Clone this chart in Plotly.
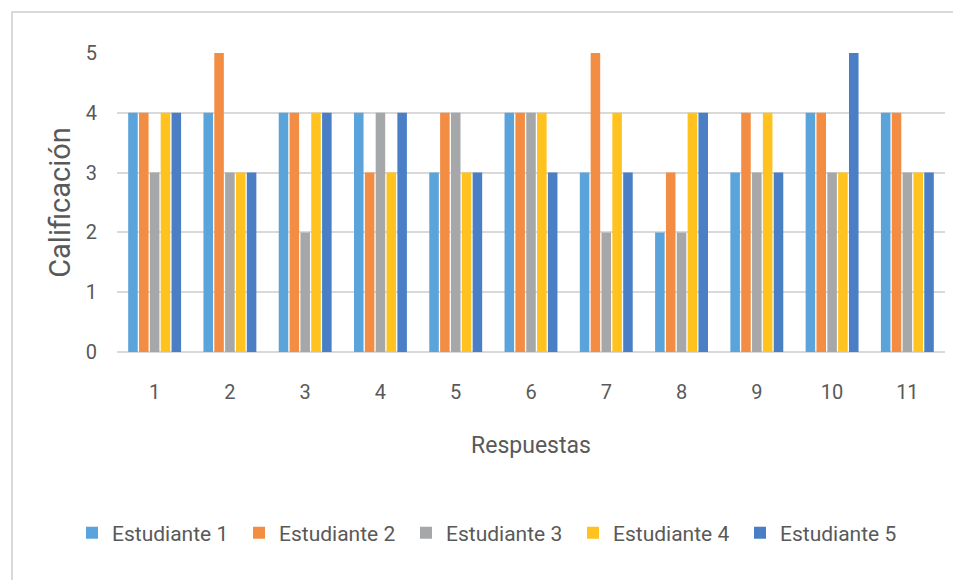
import plotly.graph_objects as go

respuestas = ["1", "2", "3", "4", "5", "6", "7", "8", "9", "10", "11"]
estudiante_1 = [4, 4, 4, 4, 3, 4, 3, 2, 3, 4, 4]
estudiante_2 = [4, 5, 4, 3, 4, 4, 5, 3, 4, 4, 4]
estudiante_3 = [3, 3, 2, 4, 4, 4, 2, 2, 3, 3, 3]
estudiante_4 = [4, 3, 4, 3, 3, 4, 4, 4, 4, 3, 3]
estudiante_5 = [4, 3, 4, 4, 3, 3, 3, 4, 3, 5, 3]
series_names = ["Estudiante 1", "Estudiante 2", "Estudiante 3", "Estudiante 4", "Estudiante 5"]
series_values = [estudiante_1, estudiante_2, estudiante_3, estudiante_4, estudiante_5]
colors = ["#5BA3DB", "#F38D43", "#A5A7A9", "#FFC21F", "#4A7FC6"]

FONT = "Roboto, sans-serif"
TXT = "#595959"

# page body has an 8px margin; figure sized to fit inside the 961x580 window
W, H = 953, 572
L, T = 109, 45
PLOT_W = 828
PLOT_H = 299
R = W - L - PLOT_W
B = H - T - PLOT_H

fig = go.Figure()
for name, vals, c in zip(series_names, series_values, colors):
    fig.add_trace(go.Bar(x=respuestas, y=vals, name=name, marker=dict(color=c, line=dict(width=0))))

fig.update_layout(
    width=W, height=H,
    paper_bgcolor="white", plot_bgcolor="white",
    margin=dict(l=L, r=R, t=T, b=B, autoexpand=False),
    barmode="group", bargap=0.28, bargroupgap=0.12,
    font=dict(family=FONT, color=TXT, size=20),
    xaxis=dict(
        type="category", showgrid=False, showline=False, zeroline=False,
        ticks="", tickfont=dict(size=20, color=TXT), ticklabelstandoff=26,
        title=dict(text="Respuestas", font=dict(size=23, color=TXT), standoff=33),
    ),
    yaxis=dict(
        range=[0, 5], dtick=1, showgrid=True, gridcolor="#D9D9D9", gridwidth=1.5,
        zeroline=True, zerolinecolor="#D9D9D9", zerolinewidth=1.5, showline=False,
        ticks="", tickfont=dict(size=20, color=TXT), ticklabelstandoff=19,
        title=dict(text="Calificación", font=dict(size=29, color=TXT), standoff=6),
    ),
    legend=dict(
        orientation="h", x=(64 - L) / PLOT_W, xanchor="left",
        y=(T + PLOT_H - 525) / PLOT_H, yanchor="middle",
        font=dict(size=21, color=TXT), entrywidth=122, entrywidthmode="pixels",
        itemwidth=30, traceorder="normal",
    ),
    shapes=[dict(type="rect", xref="paper", yref="paper",
                 x0=(4 - L) / PLOT_W, x1=1.2, y0=-1.0, y1=(T + PLOT_H - 4) / PLOT_H,
                 line=dict(color="#D9D9D9", width=2), fillcolor="rgba(0,0,0,0)", layer="below")],
)

fig.write_html("out.html")
